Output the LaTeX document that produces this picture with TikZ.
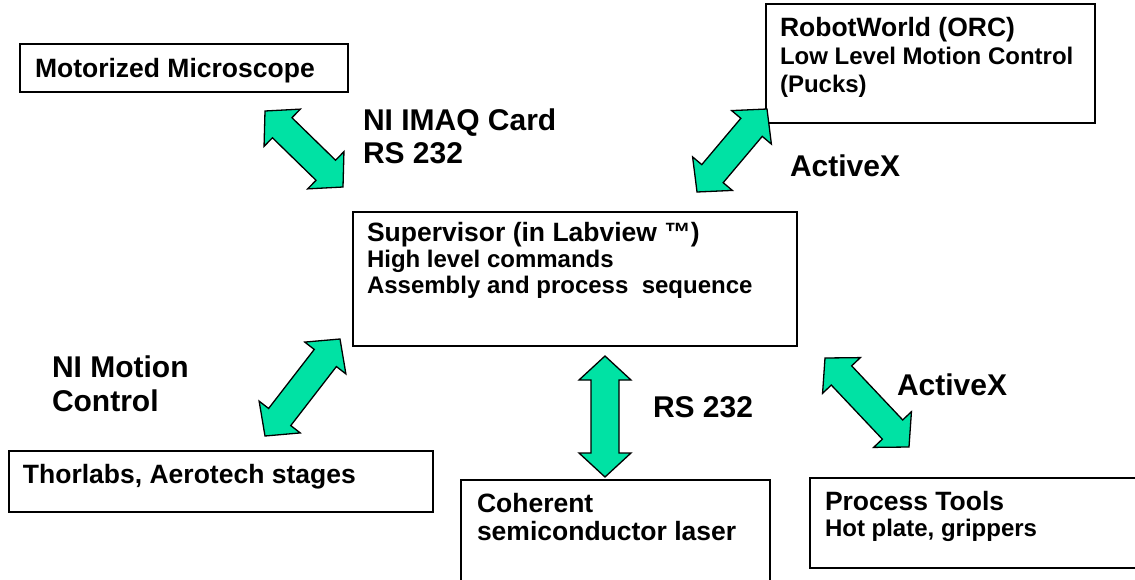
\documentclass[tikz,border=0pt]{standalone}
\usepackage{fontspec}
\setmainfont{Liberation Sans}
\usetikzlibrary{calc}
\definecolor{arrowgreen}{RGB}{0,226,164}
\newcommand\tfont{\fontsize{26.5}{30}\selectfont\bfseries}
\newcommand\sfont{\fontsize{24}{28}\selectfont\bfseries}
\newcommand\lfont{\fontsize{30}{34}\selectfont\bfseries}
\newcommand\blockarr[2]{%
  \coordinate (ba1) at ($(#1)!24pt!(#2)$);
  \coordinate (ba2) at ($(#2)!24pt!(#1)$);
  \draw[blk] (#1) -- ($(ba1)!26pt!90:(#1)$) -- ($(ba1)!14pt!90:(#1)$)
    -- ($(ba2)!14pt!-90:(#2)$) -- ($(ba2)!26pt!-90:(#2)$) -- (#2)
    -- ($(ba2)!26pt!90:(#2)$) -- ($(ba2)!14pt!90:(#2)$)
    -- ($(ba1)!14pt!-90:(#1)$) -- ($(ba1)!26pt!-90:(#1)$) -- cycle;}
\begin{document}
\begin{tikzpicture}[x=1pt,y=1pt,
  box/.style={draw=black, line width=1.6pt, fill=white, inner sep=0pt, outer sep=0pt, anchor=north west},
  txt/.style={anchor=base west, inner sep=0pt, outer sep=0pt},
  blk/.style={draw=black, line width=1.3pt, fill=arrowgreen, line join=miter}]
\useasboundingbox (0,0) rectangle (1135,-579);
\fill[white] (0,0) rectangle (1135,-579);
\clip (0,0) rectangle (1135,-579);
% boxes
\node[box, minimum width=328pt, minimum height=48pt] (mic) at (20,-44) {};
\node[box, minimum width=329pt, minimum height=119pt] (robot) at (766,-4) {};
\node[box, minimum width=444pt, minimum height=134pt] (sup) at (353,-212) {};
\node[box, minimum width=424pt, minimum height=61pt] (thor) at (9,-451) {};
\node[box, minimum width=309pt, minimum height=130pt] (coh) at (461,-480) {};
\node[box, minimum width=340pt, minimum height=90pt] (proc) at (810,-478) {};
% box texts
\node[txt] (micA) at (35,-77) {\tfont Motorized Microscope};
\node[txt] (robA) at (780,-36) {\tfont RobotWorld (ORC)};
\node[txt] (robB) at (780,-64) {\sfont Low Level Motion Control};
\node[txt] (robC) at (780,-92) {\sfont (Pucks)};
\node[txt] (supA) at (367,-241) {\tfont Supervisor (in Labview ™)};
\node[txt] (supB) at (367,-267) {\sfont High level commands};
\node[txt] (supC) at (367,-293) {\sfont Assembly and process\ \ sequence};
\node[txt] (thorA) at (23,-483) {\tfont Thorlabs, Aerotech stages};
\node[txt] (cohA) at (477,-512) {\tfont Coherent};
\node[txt] (cohB) at (477,-540) {\tfont semiconductor laser};
\node[txt] (procA) at (825,-510) {\tfont Process Tools};
\node[txt] (procB) at (825,-536) {\sfont Hot plate, grippers};
% link labels
\node[txt] (l1a) at (363,-130) {\lfont NI IMAQ Card};
\node[txt] (l1b) at (363,-163) {\lfont RS 232};
\node[txt] (l2) at (790,-176) {\lfont ActiveX};
\node[txt] (l3a) at (52,-377) {\lfont NI Motion};
\node[txt] (l3b) at (52,-411) {\lfont Control};
\node[txt] (l4) at (653,-417) {\lfont RS 232};
\node[txt] (l5) at (897,-395) {\lfont ActiveX};
% arrow end points
\coordinate (a1s) at (265,-111); \coordinate (a1e) at (343,-187);
\coordinate (a2s) at (697,-192); \coordinate (a2e) at (767,-109);
\coordinate (a3s) at (265,-436); \coordinate (a3e) at (340,-339);
\coordinate (a4s) at (605,-356); \coordinate (a4e) at (605,-477);
\coordinate (a5s) at (825,-358); \coordinate (a5e) at (909,-447);
\blockarr{a1s}{a1e}
\blockarr{a2s}{a2e}
\blockarr{a3s}{a3e}
\blockarr{a4s}{a4e}
\blockarr{a5s}{a5e}
\end{tikzpicture}
\end{document}
